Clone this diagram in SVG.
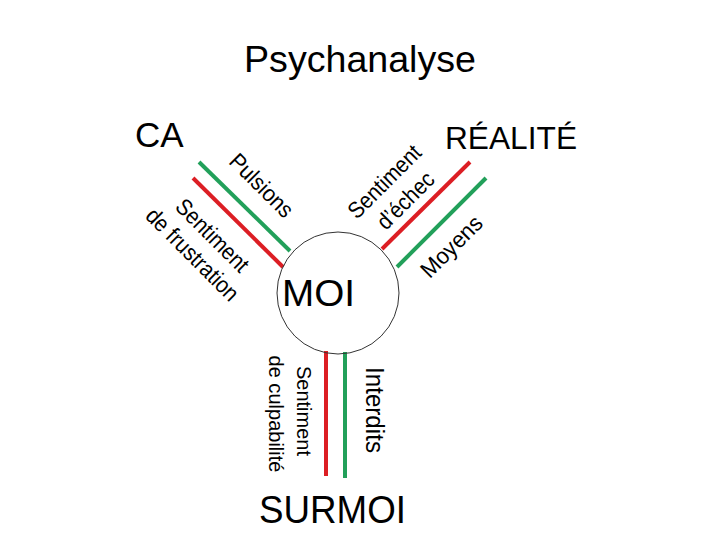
<svg xmlns="http://www.w3.org/2000/svg" width="720" height="540" viewBox="0 0 720 540">
<style>
text{font-family:"Liberation Sans","DejaVu Sans",sans-serif;fill:#000}
.big{font-size:35px}
.lab{font-size:23px;text-anchor:middle}
.red{stroke:#DC1E24;stroke-width:4;fill:none}
.green{stroke:#22A05A;stroke-width:4;fill:none}
</style>
<rect width="720" height="540" fill="#fff"/>
<text id="title" x="360" y="72" font-size="37" text-anchor="middle" textLength="232" lengthAdjust="spacingAndGlyphs">Psychanalyse</text>
<g id="connectors">
<line class="green" x1="199" y1="162" x2="290" y2="251"/>
<line class="red" x1="193" y1="178" x2="283" y2="267"/>
<line class="red" x1="470" y1="162" x2="382" y2="249"/>
<line class="green" x1="486" y1="178" x2="397" y2="267"/>
<line class="red" x1="326" y1="351" x2="326" y2="476"/>
<line class="green" x1="345" y1="352" x2="345" y2="478"/>
<text class="lab" transform="translate(256,191) rotate(45)" textLength="80" lengthAdjust="spacingAndGlyphs">Pulsions</text>
<text class="lab" transform="translate(207,241) rotate(45)" textLength="93" lengthAdjust="spacingAndGlyphs">Sentiment</text>
<text class="lab" transform="translate(187,260) rotate(45)" textLength="121" lengthAdjust="spacingAndGlyphs">de frustration</text>
<text class="lab" transform="translate(390,187) rotate(-45)" textLength="93" lengthAdjust="spacingAndGlyphs">Sentiment</text>
<text class="lab" transform="translate(411,206) rotate(-45)" textLength="71" lengthAdjust="spacingAndGlyphs">d’échec</text>
<text class="lab" transform="translate(457,252) rotate(-45)" textLength="77" lengthAdjust="spacingAndGlyphs">Moyens</text>
<text class="lab" transform="translate(366,410) rotate(90)" style="font-size:25px" textLength="86" lengthAdjust="spacingAndGlyphs">Interdits</text>
<text class="lab" transform="translate(297,411) rotate(90)" style="font-size:21px" textLength="90" lengthAdjust="spacingAndGlyphs">Sentiment</text>
<text class="lab" transform="translate(269,414) rotate(90)" style="font-size:21px" textLength="117" lengthAdjust="spacingAndGlyphs">de culpabilité</text>
</g>
<g id="ca"><text class="big" x="135" y="147">CA</text></g>
<g id="realite"><text x="445" y="149" font-size="32" textLength="132" lengthAdjust="spacingAndGlyphs">RÉALITÉ</text></g>
<g id="moi">
<circle cx="338" cy="293" r="61" fill="none" stroke="#333" stroke-width="1"/>
<text x="282" y="306" font-size="37" textLength="73" lengthAdjust="spacingAndGlyphs">MOI</text>
</g>
<g id="surmoi"><text x="259" y="523" font-size="38" textLength="147" lengthAdjust="spacingAndGlyphs">SURMOI</text></g>
</svg>
